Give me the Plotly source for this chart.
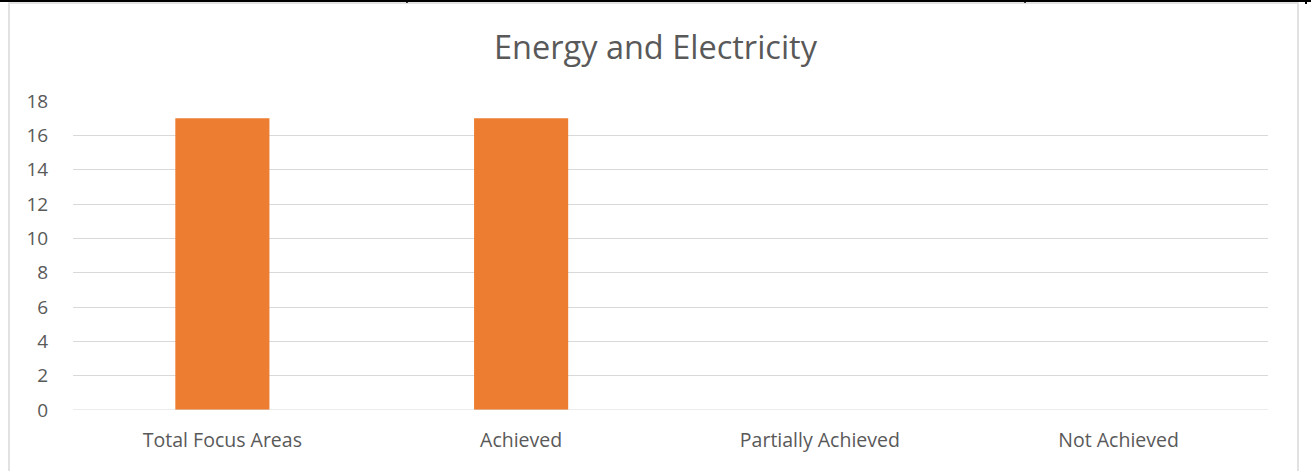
import plotly.graph_objects as go

categories = ["Total Focus Areas", "Achieved", "Partially Achieved", "Not Achieved"]
values = [17, 17, 0, 0]
y_ticks = [0, 2, 4, 6, 8, 10, 12, 14, 16, 18]

W, H = 1311, 471
ml, mr, mt, mb = 73, 43, 101, 61
pw, ph = W - ml - mr, H - mt - mb


def px(x):
    return (x - ml) / pw


def py(y):
    return 1 - (y - mt) / ph


fig = go.Figure()
fig.add_trace(go.Bar(
    x=categories,
    y=values,
    width=0.315,
    marker=dict(color="#ED7D31", line=dict(width=0)),
    hoverinfo="x+y",
))

grey = "#D9D9D9"
shapes = [
    # chart frame
    dict(type="rect", xref="paper", yref="paper",
         x0=px(9), x1=px(1298), y0=py(475), y1=py(3),
         line=dict(color=grey, width=1.5), fillcolor="rgba(0,0,0,0)", layer="below"),
    # table border lines at top of the page
    dict(type="line", xref="paper", yref="paper",
         x0=px(0), x1=px(1311), y0=py(1), y1=py(1),
         line=dict(color="black", width=2)),
    dict(type="line", xref="paper", yref="paper",
         x0=px(407), x1=px(407), y0=py(0), y1=py(3),
         line=dict(color="black", width=1.5)),
    dict(type="line", xref="paper", yref="paper",
         x0=px(1025), x1=px(1025), y0=py(0), y1=py(3),
         line=dict(color="black", width=1.5)),
    dict(type="line", xref="paper", yref="paper",
         x0=px(1306), x1=px(1306), y0=py(0), y1=py(4),
         line=dict(color="black", width=2)),
]

fig.update_layout(
    width=W, height=H,
    margin=dict(l=ml, r=mr, t=mt, b=mb),
    plot_bgcolor="white", paper_bgcolor="white",
    font=dict(family="Open Sans, Lato, sans-serif", color="#595959", size=19),
    title=dict(text="Energy and Electricity", x=0.5, xanchor="center",
               y=1 - 48 / H, yanchor="middle", yref="container",
               font=dict(size=32.5, color="#595959")),
    showlegend=False,
    bargap=0.685,
    shapes=shapes,
)
fig.update_xaxes(showgrid=False, zeroline=False, showline=False, ticks="outside",
                 ticklen=13, tickcolor="rgba(0,0,0,0)",
                 tickfont=dict(size=19.5, color="#595959"))
fig.update_yaxes(range=[0, 18], tickvals=y_ticks, showgrid=True, gridcolor=grey,
                 gridwidth=1, zeroline=False, showline=False, ticks="outside",
                 ticklen=20, tickcolor="rgba(0,0,0,0)",
                 tickfont=dict(size=19, color="#595959"))
fig.add_hline(y=0, line=dict(color=grey, width=1))

fig.write_html("out.html", config={"displayModeBar": False})

# drop the browser's default page margin so the figure sits at (0, 0)
with open("out.html", encoding="utf-8") as f:
    html = f.read()
html = html.replace("<body>", '<body style="margin:0;overflow:hidden">', 1)
with open("out.html", "w", encoding="utf-8") as f:
    f.write(html)
